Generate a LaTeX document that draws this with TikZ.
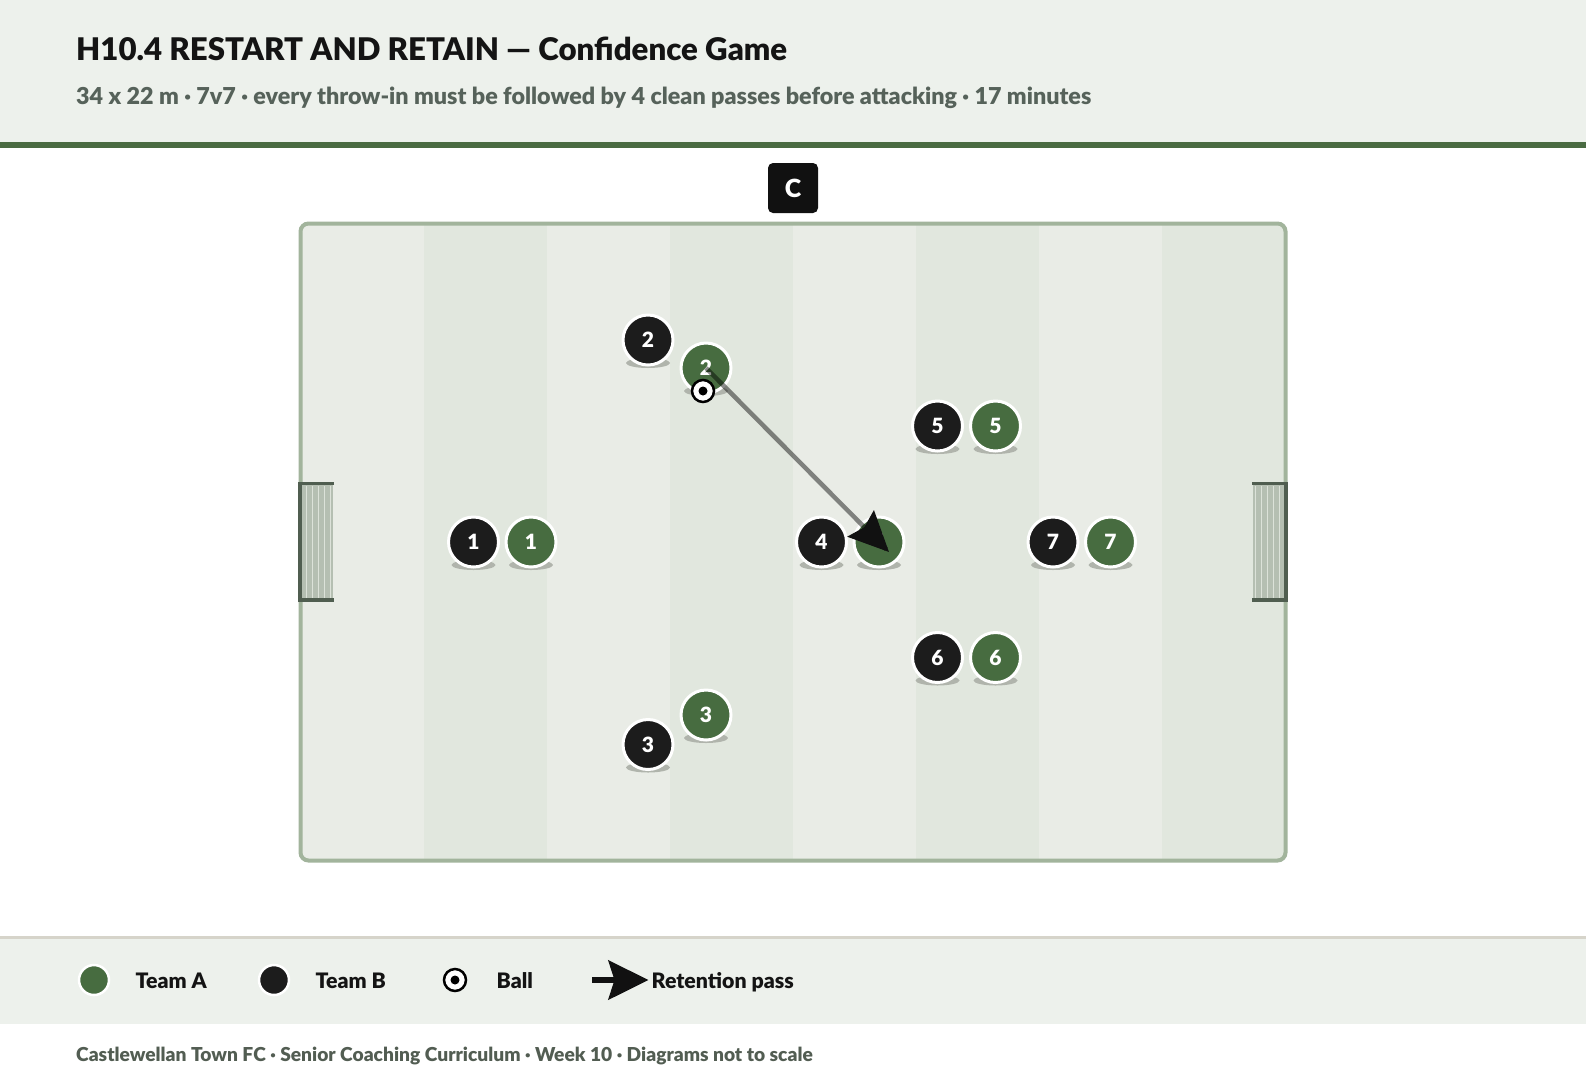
\documentclass[tikz,border=0pt]{standalone}
\usepackage{fontspec}
\setmainfont{Lato}
\IfFontExistsTF{Lato Black}{\newfontfamily\hvy{Lato Black}}{\newcommand\hvy{\bfseries}}
\usetikzlibrary{arrows.meta,calc}
\definecolor{hdrbg}{HTML}{EDF1EC}
\definecolor{hdrline}{HTML}{4A6B42}
\definecolor{titlec}{HTML}{141414}
\definecolor{subc}{HTML}{56625A}
\definecolor{teamA}{HTML}{476C40}
\definecolor{teamB}{HTML}{1C1C1C}
\definecolor{stripeL}{HTML}{E9ECE6}
\definecolor{stripeD}{HTML}{E1E7DE}
\definecolor{pitchline}{HTML}{A2B49C}
\definecolor{goalframe}{HTML}{505E50}
\definecolor{netfill}{HTML}{B5BFB2}
\definecolor{netline}{HTML}{DCE2D9}
\definecolor{shadowc}{HTML}{B0B4AC}
\definecolor{legbg}{HTML}{EDF1EC}
\definecolor{legline}{HTML}{D6D4CA}
\definecolor{footc}{HTML}{525D52}
\definecolor{headc}{HTML}{111111}
\tikzset{
  plbase/.style={circle, minimum size=50pt, inner sep=0pt, draw=white, line width=3pt, text=white, font=\hvy\fontsize{21}{21}\selectfont},
  teamAp/.style={plbase, fill=teamA},
  teamBp/.style={plbase, fill=teamB},
  ballp/.style={circle, minimum size=22pt, inner sep=0pt, fill=white, draw=black, line width=2.5pt,
    path picture={\fill[black] (path picture bounding box.center) circle (4.5pt);}},
  legA/.style={circle, minimum size=30pt, inner sep=0pt, draw=white, line width=2.5pt, fill=teamA},
  legB/.style={circle, minimum size=30pt, inner sep=0pt, draw=white, line width=2.5pt, fill=teamB},
  legtxt/.style={anchor=base west, inner sep=0pt, text=titlec, font=\hvy\fontsize{21.3}{21.3}\selectfont},
  coachbox/.style={rounded corners=5pt, minimum size=50pt, inner sep=0pt, fill=headc, text=white, font=\hvy\fontsize{25}{25}\selectfont},
  passline/.style={line width=4.5pt, draw=black, draw opacity=0.45},
  passhead/.style={line width=4pt, draw=headc, -{Stealth[length=40pt,width=37pt,inset=5pt]}},
}
\newcommand\plr[5]{%
  \fill[shadowc] (#2,#3+23) ellipse [x radius=22, y radius=5];
  \node[#4] (#1) at (#2,#3) {#5};}
\begin{document}
\begin{tikzpicture}[x=1pt,y=-1pt]
\useasboundingbox (0,0) rectangle (1586,1080);
\fill[white] (0,0) rectangle (1586,1080);
% header
\fill[hdrbg] (0,0) rectangle (1586,142);
\fill[hdrline] (0,142) rectangle (1586,147.5);
\node[anchor=base west, inner sep=0pt, text=titlec, font=\hvy\fontsize{31.2}{31.2}\selectfont] (title) at (76,60.5) {H10.4 RESTART AND RETAIN — Confidence Game};
\node[anchor=base west, inner sep=0pt, text=subc, font=\hvy\fontsize{23.3}{23.3}\selectfont] (subtitle) at (76,104.5) {34 x 22 m · 7v7 · every throw-in must be followed by 4 clean passes before attacking · 17 minutes};
% pitch
\begin{scope}
\clip[rounded corners=8pt] (300.5,223.5) rectangle (1285.5,860.5);
\fill[stripeL] (300.5,223.5) rectangle (1285.5,860.5);
\foreach \i in {1,3,5,7}{
  \fill[stripeD] (300.5+\i*123.125,223.5) rectangle (300.5+\i*123.125+123.125,860.5);
}
\end{scope}
\draw[pitchline, line width=4pt, rounded corners=8pt] (300.5,223.5) rectangle (1285.5,860.5);
% left goal
\fill[netfill] (301,484) rectangle (333,600);
\foreach \x in {306.5,312.5,318.5,324.5,330.5}{\draw[netline, line width=1.2pt] (\x,486) -- (\x,598);}
\draw[goalframe, line width=3.5pt] (334,483.5) -- (300,483.5) -- (300,600) -- (334,600);
% right goal
\fill[netfill] (1253,484) rectangle (1285,600);
\foreach \x in {1255.5,1261.5,1267.5,1273.5,1279.5}{\draw[netline, line width=1.2pt] (\x,486) -- (\x,598);}
\draw[goalframe, line width=3.5pt] (1252,483.5) -- (1286,483.5) -- (1286,600) -- (1252,600);
% coach
\node[coachbox] (coach) at (793,188) {C};
% players
\plr{b2}{648}{340}{teamBp}{2}
\plr{a2}{706}{368}{teamAp}{2}
\plr{b5}{937.5}{426}{teamBp}{5}
\plr{a5}{995.5}{426}{teamAp}{5}
\plr{b1}{473.5}{542}{teamBp}{1}
\plr{a1}{531}{542}{teamAp}{1}
\plr{b4}{821.5}{542}{teamBp}{4}
\plr{a4}{879}{542}{teamAp}{4}
\plr{b7}{1053}{542}{teamBp}{7}
\plr{a7}{1110.5}{542}{teamAp}{7}
\plr{b6}{937.5}{657.5}{teamBp}{6}
\plr{a6}{995.5}{657.5}{teamAp}{6}
\plr{a3}{706}{715}{teamAp}{3}
\plr{b3}{648}{744.5}{teamBp}{3}
% pass
\coordinate (passend) at (889,552);
\draw[passline, shorten >=30pt] (a2.center) -- (passend);
\draw[passhead] ($(passend)!4pt!(a2.center)$) -- (passend);
% ball
\node[ballp] (ball) at (703,391) {};
% legend
\fill[legbg] (0,938) rectangle (1586,1024);
\fill[legline] (0,936) rectangle (1586,939);
\node[legA] (legAc) at (94,980) {};
\node[legtxt] (legAt) at (135.5,988) {Team A};
\node[legB] (legBc) at (274,980) {};
\node[legtxt] (legBt) at (315.5,988) {Team B};
\node[ballp] (legball) at (455,980) {};
\node[legtxt] (legballt) at (496.5,988) {Ball};
\coordinate (lgs) at (592,980);
\coordinate (lge) at (648.5,980);
\draw[line width=6pt, draw=headc, -{Stealth[length=40pt,width=39pt,inset=6pt]}] (lgs) -- (lge);
\node[legtxt] (legpt) at (651.5,988) {Retention pass};
% footer
\node[anchor=base west, inner sep=0pt, text=footc, font=\hvy\fontsize{19.2}{19.2}\selectfont] (footer) at (76,1061) {Castlewellan Town FC · Senior Coaching Curriculum · Week 10 · Diagrams not to scale};
\end{tikzpicture}
\end{document}
